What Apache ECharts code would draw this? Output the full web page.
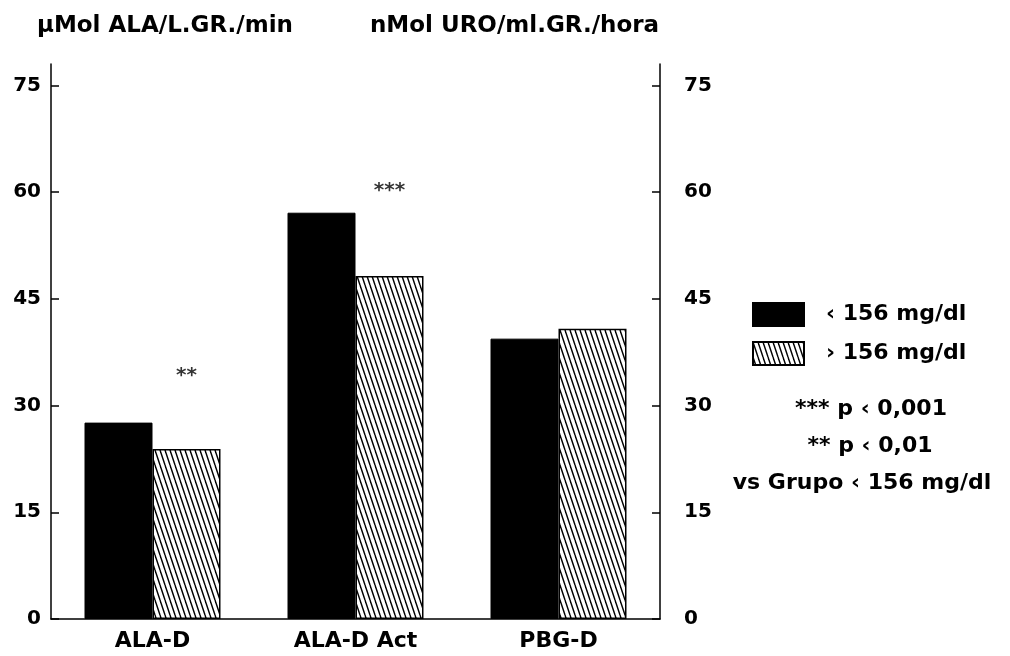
<!DOCTYPE html>
<html>
<head>
<meta charset="utf-8">
<script src="https://cdn.jsdelivr.net/npm/echarts@6/dist/echarts.min.js"></script>
<style>
  html, body { margin: 0; padding: 0; background: #fff; }
  #main { width: 1010px; height: 656px; }
</style>
</head>
<body>
<div id="main"></div>
<script>
// datos
var categorias = ['ALA-D', 'ALA-D Act', 'PBG-D'];
var grupoMenor = [27.6, 57.1, 39.4];   // < 156 mg/dl
var grupoMayor = [23.9, 48.2, 40.8];   // > 156 mg/dl
var estrellas = ['**', '***', ''];
var posEstrellas = [34.2, 60.2, null];
var ticks = [0, 15, 30, 45, 60, 75];

var fuente = 'DejaVu Sans';
var letra = function (t) { return 'bold ' + t + 'px "DejaVu Sans"'; };

// trama rayada para el grupo > 156
function trama() {
    var c = document.createElement('canvas');
    c.width = 5; c.height = 15;
    var ctx = c.getContext('2d');
    ctx.fillStyle = '#fff';
    ctx.fillRect(0, 0, 5, 15);
    ctx.strokeStyle = '#000';
    ctx.lineWidth = 1.4;
    [-5, 0, 5].forEach(function (x) {
        ctx.beginPath();
        ctx.moveTo(x, 0);
        ctx.lineTo(x + 5, 15);
        ctx.stroke();
    });
    return c;
}

var myChart = echarts.init(document.getElementById('main'));

var ejeY = function (pos) {
    return {
        type: 'value',
        position: pos,
        min: 0,
        max: 78,
        interval: 15,
        splitLine: { show: false },
        axisLine: { show: true, lineStyle: { color: '#000', width: 1.5 } },
        axisTick: { show: true, inside: true, length: 8, customValues: ticks, lineStyle: { color: '#000', width: 1.5 } },
        axisLabel: {
            customValues: ticks,
            color: '#000', fontFamily: fuente, fontWeight: 'bold', fontSize: 20,
            margin: pos === 'left' ? 10 : 24
        }
    };
};

var option = {
    animation: false,
    grid: { left: 51, right: 350, top: 64, bottom: 37 },
    xAxis: {
        type: 'category',
        data: categorias,
        axisLine: { lineStyle: { color: '#000', width: 1.5 } },
        axisTick: { show: false },
        axisLabel: { color: '#000', fontFamily: fuente, fontWeight: 'bold', fontSize: 22, margin: 11 }
    },
    yAxis: [ejeY('left'), ejeY('right')],
    legend: {
        data: ['‹ 156 mg/dl', '› 156 mg/dl'],
        orient: 'vertical',
        left: 752,
        top: 302,
        padding: 0,
        itemWidth: 51,
        itemHeight: 23,
        itemGap: 14,
        icon: 'rect',
        textStyle: { color: '#000', fontFamily: fuente, fontWeight: 'bold', fontSize: 22, padding: [0, 0, 0, 17] }
    },
    graphic: [
        { type: 'text', left: 37, top: 15, style: { text: 'µMol ALA/L.GR./min', fill: '#000', font: letra(23) } },
        { type: 'text', left: 370, top: 15, style: { text: 'nMol URO/ml.GR./hora', fill: '#000', font: letra(23) } },
        { type: 'text', x: 871, y: 409, style: { text: '*** p ‹ 0,001', fill: '#000', font: letra(22), align: 'center', verticalAlign: 'middle' } },
        { type: 'text', x: 870, y: 446, style: { text: '** p ‹ 0,01', fill: '#000', font: letra(22), align: 'center', verticalAlign: 'middle' } },
        { type: 'text', x: 862, y: 483, style: { text: 'vs Grupo ‹ 156 mg/dl', fill: '#000', font: letra(22), align: 'center', verticalAlign: 'middle' } }
    ],
    series: [
        {
            name: '‹ 156 mg/dl',
            type: 'bar',
            data: grupoMenor,
            barWidth: 68,
            barGap: '0%',
            itemStyle: { color: '#000', borderColor: '#000', borderWidth: 1 }
        },
        {
            name: '› 156 mg/dl',
            type: 'bar',
            data: grupoMayor,
            barWidth: 68,
            itemStyle: { color: { image: trama(), repeat: 'repeat' }, borderColor: '#000', borderWidth: 1.5 }
        },
        {
            name: 'sig',
            type: 'scatter',
            data: posEstrellas,
            symbolSize: 0,
            silent: true,
            label: {
                show: true,
                position: 'inside',
                offset: [34, 0],
                formatter: function (p) { return estrellas[p.dataIndex]; },
                color: '#000', fontFamily: fuente, fontWeight: 'bold', fontSize: 20
            }
        }
    ]
};

myChart.setOption(option);
</script>
</body>
</html>
